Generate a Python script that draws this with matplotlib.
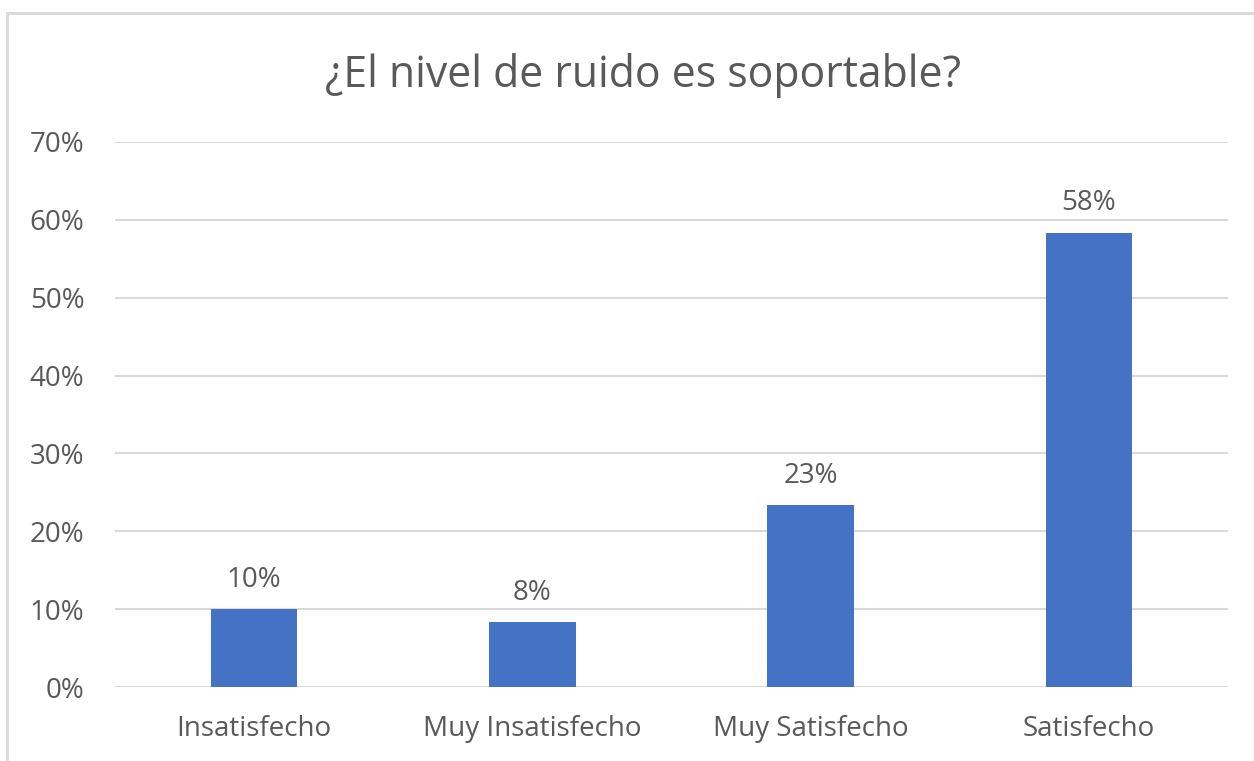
import matplotlib.pyplot as plt
from matplotlib.patches import Rectangle

# survey answers (out of 60 responses)
categories = ["Insatisfecho", "Muy Insatisfecho", "Muy Satisfecho", "Satisfecho"]
shares = [6 / 60, 5 / 60, 14 / 60, 35 / 60]
yticks = [0, 0.1, 0.2, 0.3, 0.4, 0.5, 0.6, 0.7]

text_color = "#595959"
grid_color = "#D9D9D9"
bar_color = "#4472C4"

plt.rcParams["font.family"] = ["Open Sans", "DejaVu Sans"]

fig = plt.figure(figsize=(12.54, 7.61), dpi=100)
ax = fig.add_axes([115 / 1254, 1 - 687 / 761, (1228 - 115) / 1254, (687 - 142) / 761])

xs = range(len(categories))
ax.bar(xs, shares, width=0.31, color=bar_color, zorder=3)
for x, v in zip(xs, shares):
    ax.text(x, v + 0.02, f"{v:.0%}", ha="center", va="bottom",
            fontsize=20, color=text_color)

ax.set_xlim(-0.5, len(categories) - 0.5)
ax.set_ylim(0, 0.7)
ax.set_yticks(yticks)
ax.set_yticklabels([f"{t:.0%}" for t in yticks])
ax.set_xticks(list(xs))
ax.set_xticklabels(categories)
ax.tick_params(axis="both", length=0, labelsize=20, colors=text_color)
ax.tick_params(axis="y", pad=22)
ax.tick_params(axis="x", pad=20)
ax.grid(axis="y", color=grid_color, linewidth=1.5, zorder=0)
for s in ax.spines.values():
    s.set_visible(False)

fig.text(643 / 1254, 1 - 75 / 761, "¿El nivel de ruido es soportable?", ha="center",
         va="center", fontsize=30.8, color=text_color)

# chart frame
fig.patches.append(Rectangle((7 / 1254, -0.05), 1.1, 1 - 13 / 761 + 0.05,
                             transform=fig.transFigure, fill=False,
                             edgecolor=grid_color, linewidth=2))

fig.savefig("out.png", dpi=100)
